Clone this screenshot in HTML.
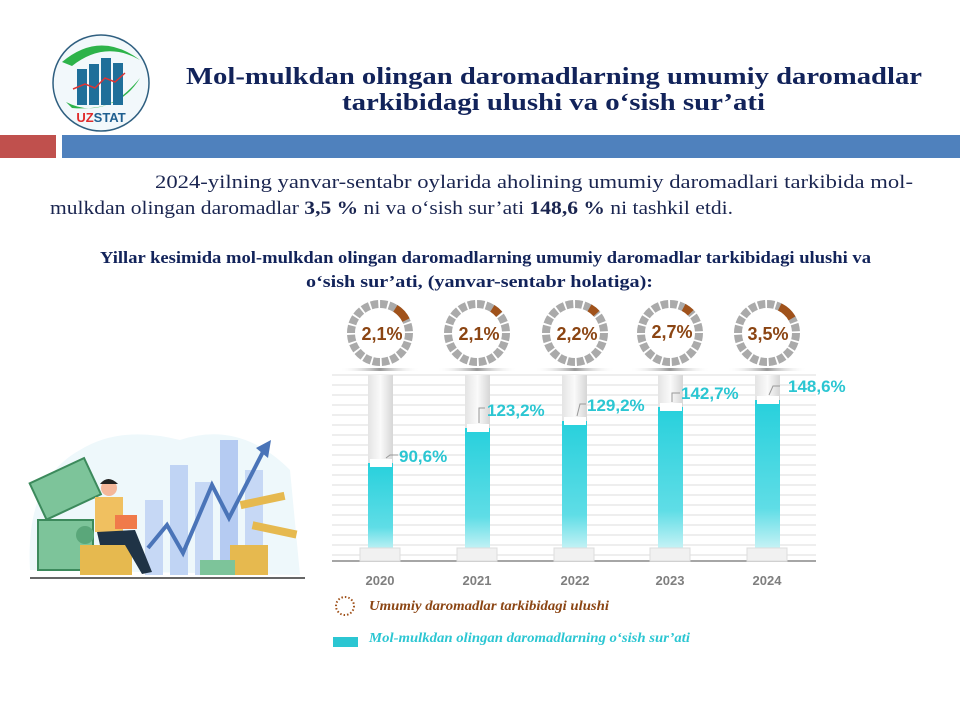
<!DOCTYPE html>
<html><head><meta charset="utf-8"><style>
html,body{margin:0;padding:0;background:#fff;}
svg{display:block}
.sf{font-family:"Liberation Serif","DejaVu Serif",serif;}
.ss{font-family:"Liberation Sans","DejaVu Sans",sans-serif;}
</style></head><body>
<svg width="960" height="720" viewBox="0 0 960 720" xmlns="http://www.w3.org/2000/svg">
<defs>
<linearGradient id="cy" x1="0" y1="0" x2="0" y2="1"><stop offset="0" stop-color="#27d0dc"/><stop offset="0.7" stop-color="#5fdde6"/><stop offset="1" stop-color="#d8f6f8"/></linearGradient>
<linearGradient id="tube" x1="0" y1="0" x2="1" y2="0"><stop offset="0" stop-color="#e4e4e4"/><stop offset="0.5" stop-color="#fafafa"/><stop offset="1" stop-color="#d6d6d6"/></linearGradient>
<linearGradient id="shad" x1="0" y1="0" x2="1" y2="0"><stop offset="0" stop-color="#fff" stop-opacity="0"/><stop offset="0.5" stop-color="#999"/><stop offset="1" stop-color="#fff" stop-opacity="0"/></linearGradient>
</defs>
<!-- logo -->
<circle cx="101" cy="83" r="48" fill="#f2f8fb" stroke="#2f5f80" stroke-width="1.5"/>
<path d="M62 62 Q100 30 140 60 Q105 40 72 66Z" fill="#2db34a"/>
<path d="M66 102 Q104 122 140 78 Q120 112 72 108Z" fill="#2db34a"/>
<rect x="77" y="69" width="10" height="36" fill="#1f6f9a"/>
<rect x="89" y="64" width="10" height="41" fill="#1f6f9a"/>
<rect x="101" y="58" width="10" height="47" fill="#1f6f9a"/>
<rect x="113" y="63" width="10" height="42" fill="#1f6f9a"/>
<polyline points="73,89 85,84 95,88 105,78 115,82 125,73" fill="none" stroke="#d33" stroke-width="1.5"/>
<text class="ss" x="101" y="122" font-weight="bold" font-size="13" text-anchor="middle"><tspan fill="#e02b2b">UZ</tspan><tspan fill="#1f5f90">STAT</tspan></text>
<!-- title -->
<text class="sf" x="186" y="84" font-weight="bold" font-size="24" fill="#12235a" textLength="736" lengthAdjust="spacingAndGlyphs">Mol-mulkdan olingan daromadlarning umumiy daromadlar</text>
<text class="sf" x="342" y="110" font-weight="bold" font-size="24" fill="#12235a" textLength="423" lengthAdjust="spacingAndGlyphs">tarkibidagi ulushi va o‘sish sur’ati</text>
<rect x="0" y="135" width="56" height="23" fill="#c0504d"/>
<rect x="62" y="135" width="898" height="23" fill="#4f81bd"/>
<!-- paragraph -->
<text class="sf" x="155" y="188" font-size="19" fill="#1a2550" textLength="758" lengthAdjust="spacingAndGlyphs">2024-yilning yanvar-sentabr oylarida aholining umumiy daromadlari tarkibida mol-</text>
<text class="sf" x="50" y="214" font-size="19" fill="#1a2550" textLength="683" lengthAdjust="spacingAndGlyphs">mulkdan olingan daromadlar <tspan font-weight="bold">3,5 %</tspan> ni va o‘sish sur’ati <tspan font-weight="bold">148,6 %</tspan> ni tashkil etdi.</text>
<text class="sf" x="100" y="263" font-weight="bold" font-size="17" fill="#12235a" textLength="771" lengthAdjust="spacingAndGlyphs">Yillar kesimida mol-mulkdan olingan daromadlarning umumiy daromadlar tarkibidagi ulushi va</text>
<text class="sf" x="306" y="287" font-weight="bold" font-size="17" fill="#12235a" textLength="347" lengthAdjust="spacingAndGlyphs">o‘sish sur’ati, (yanvar-sentabr holatiga):</text>
<!-- grid -->
<g stroke="#dedede" stroke-width="1">
<line x1="332" y1="375" x2="816" y2="375"/><line x1="332" y1="385" x2="816" y2="385"/><line x1="332" y1="395" x2="816" y2="395"/><line x1="332" y1="405" x2="816" y2="405"/><line x1="332" y1="415" x2="816" y2="415"/><line x1="332" y1="425" x2="816" y2="425"/><line x1="332" y1="435" x2="816" y2="435"/><line x1="332" y1="445" x2="816" y2="445"/><line x1="332" y1="455" x2="816" y2="455"/><line x1="332" y1="465" x2="816" y2="465"/><line x1="332" y1="475" x2="816" y2="475"/><line x1="332" y1="485" x2="816" y2="485"/><line x1="332" y1="495" x2="816" y2="495"/><line x1="332" y1="505" x2="816" y2="505"/><line x1="332" y1="515" x2="816" y2="515"/><line x1="332" y1="525" x2="816" y2="525"/><line x1="332" y1="535" x2="816" y2="535"/><line x1="332" y1="545" x2="816" y2="545"/><line x1="332" y1="555" x2="816" y2="555"/>
</g>
<line x1="332" y1="561" x2="816" y2="561" stroke="#888" stroke-width="1.5"/>
<g class="ss">
<rect x="368" y="375" width="25" height="180" fill="url(#tube)"/><rect x="368" y="463" width="25" height="92" fill="url(#cy)"/><rect x="370" y="459" width="22" height="8" fill="#fff"/><rect x="360" y="548" width="40" height="13" fill="#f1f1f1" stroke="#ddd"/>
<rect x="465" y="375" width="25" height="180" fill="url(#tube)"/><rect x="465" y="428" width="25" height="127" fill="url(#cy)"/><rect x="467" y="424" width="22" height="8" fill="#fff"/><rect x="457" y="548" width="40" height="13" fill="#f1f1f1" stroke="#ddd"/>
<rect x="562" y="375" width="25" height="180" fill="url(#tube)"/><rect x="562" y="421" width="25" height="134" fill="url(#cy)"/><rect x="564" y="417" width="22" height="8" fill="#fff"/><rect x="554" y="548" width="40" height="13" fill="#f1f1f1" stroke="#ddd"/>
<rect x="658" y="375" width="25" height="180" fill="url(#tube)"/><rect x="658" y="407" width="25" height="148" fill="url(#cy)"/><rect x="660" y="403" width="22" height="8" fill="#fff"/><rect x="650" y="548" width="40" height="13" fill="#f1f1f1" stroke="#ddd"/>
<rect x="755" y="375" width="25" height="180" fill="url(#tube)"/><rect x="755" y="400" width="25" height="155" fill="url(#cy)"/><rect x="757" y="396" width="22" height="8" fill="#fff"/><rect x="747" y="548" width="40" height="13" fill="#f1f1f1" stroke="#ddd"/>
<g fill="none" stroke="#999" stroke-width="1"><polyline points="386,458 390,455 398,455"/><polyline points="479,423 479,408 485,408"/><polyline points="577,416 580,404 586,404"/><polyline points="672,402 672,393 680,393"/><polyline points="769,395 773,386 780,386"/></g>
<g fill="#2bc6d2" font-size="17" font-weight="bold">
<text x="399" y="462">90,6%</text><text x="487" y="416">123,2%</text><text x="587" y="411">129,2%</text><text x="681" y="399">142,7%</text><text x="788" y="392">148,6%</text>
</g>
<g fill="#7f7f7f" font-size="13" font-weight="bold" text-anchor="middle">
<text x="380" y="585">2020</text><text x="477" y="585">2021</text><text x="575" y="585">2022</text><text x="670" y="585">2023</text><text x="767" y="585">2024</text>
</g>
<!-- donuts -->
<g fill="none" stroke-width="8">
<g transform="translate(380,333)"><circle r="29" stroke="#aaa" stroke-dasharray="7.3 1.8"/><circle r="29" stroke="#a0521b" stroke-dasharray="16 200" transform="rotate(-58)"/></g>
<g transform="translate(477,333)"><circle r="29" stroke="#aaa" stroke-dasharray="7.3 1.8"/><circle r="29" stroke="#a0521b" stroke-dasharray="9 200" transform="rotate(-58)"/></g>
<g transform="translate(575,333)"><circle r="29" stroke="#aaa" stroke-dasharray="7.3 1.8"/><circle r="29" stroke="#a0521b" stroke-dasharray="9 200" transform="rotate(-60)"/></g>
<g transform="translate(670,333)"><circle r="29" stroke="#aaa" stroke-dasharray="7.3 1.8"/><circle r="29" stroke="#a0521b" stroke-dasharray="9 200" transform="rotate(-62)"/></g>
<g transform="translate(767,333)"><circle r="29" stroke="#aaa" stroke-dasharray="7.3 1.8"/><circle r="29" stroke="#a0521b" stroke-dasharray="17 200" transform="rotate(-64)"/></g>
</g>
<g fill="url(#shad)"><rect x="340" y="368" width="80" height="3"/><rect x="437" y="368" width="80" height="3"/><rect x="535" y="368" width="80" height="3"/><rect x="630" y="368" width="80" height="3"/><rect x="727" y="368" width="80" height="3"/></g>
<g fill="#8b4513" font-size="18" font-weight="bold" text-anchor="middle">
<text x="382" y="340">2,1%</text><text x="479" y="340">2,1%</text><text x="577" y="340">2,2%</text><text x="672" y="338">2,7%</text><text x="768" y="340">3,5%</text>
</g>
</g>
<!-- legend -->
<circle cx="345" cy="606" r="9" fill="none" stroke="#a0521b" stroke-width="2" stroke-dasharray="1.5 2"/>
<text class="sf" x="369" y="610" font-style="italic" font-weight="bold" font-size="14" fill="#8b4513" textLength="240" lengthAdjust="spacingAndGlyphs">Umumiy daromadlar tarkibidagi ulushi</text>
<rect x="333" y="637" width="25" height="10" fill="#2bc6d2"/>
<text class="sf" x="369" y="642" font-style="italic" font-weight="bold" font-size="14" fill="#2bc6d2" textLength="321" lengthAdjust="spacingAndGlyphs">Mol-mulkdan olingan daromadlarning o‘sish sur’ati</text>
<!-- illustration -->
<path d="M30 570 Q25 480 80 450 Q120 425 180 440 Q240 420 290 470 L300 575Z" fill="#eef8fb"/>
<rect x="145" y="500" width="18" height="75" fill="#c6d8f5"/>
<rect x="170" y="465" width="18" height="110" fill="#c0d4f4"/>
<rect x="195" y="482" width="18" height="93" fill="#c6d8f5"/>
<rect x="220" y="440" width="18" height="135" fill="#b5cbf2"/>
<rect x="245" y="470" width="18" height="105" fill="#c6d8f5"/>
<polyline points="148,548 167,525 183,553 212,485 229,518 265,448" fill="none" stroke="#4a74b8" stroke-width="4"/>
<polygon points="271,440 256,448 268,458" fill="#4a74b8"/>
<g transform="rotate(-25 65 500)"><rect x="40" y="470" width="60" height="40" fill="#7dc49a" stroke="#3c8a5c" stroke-width="2"/></g>
<rect x="38" y="520" width="55" height="50" fill="#7dc49a" stroke="#3c8a5c" stroke-width="2"/>
<circle cx="85" cy="535" r="9" fill="#5aa77a"/>
<rect x="80" y="545" width="52" height="30" fill="#e6b94f"/>
<rect x="230" y="545" width="38" height="30" fill="#e6b94f"/>
<rect x="200" y="560" width="35" height="15" fill="#7dc49a"/>
<g transform="rotate(-12 265 500)"><rect x="240" y="496" width="45" height="8" fill="#e6b94f"/></g>
<g transform="rotate(12 275 530)"><rect x="252" y="526" width="45" height="8" fill="#e6b94f"/></g>
<rect x="95" y="497" width="28" height="35" fill="#f0c060"/>
<circle cx="109" cy="488" r="8" fill="#f4b79a"/>
<path d="M100 484 Q108 474 118 484" fill="#222"/>
<rect x="115" y="515" width="22" height="14" fill="#f07a4a"/>
<path d="M97 532 L135 530 L152 572 L142 574 L125 545 L100 545Z" fill="#1f3346"/>
<line x1="30" y1="578" x2="305" y2="578" stroke="#333" stroke-width="1.5"/>
</svg>
</body></html>
